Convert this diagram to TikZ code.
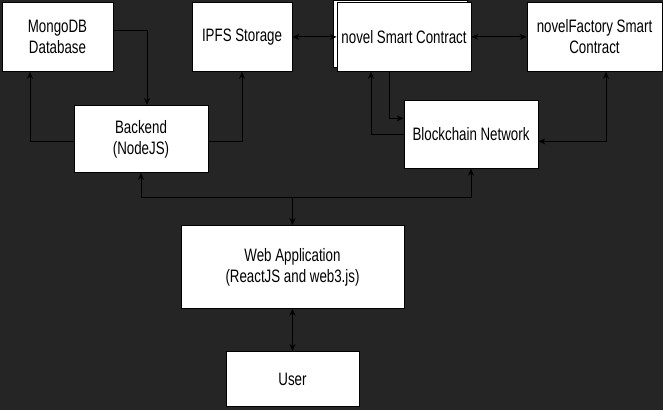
\documentclass[tikz,border=0pt]{standalone}
\usepackage{fontspec}
\newfontfamily\boxfont[FakeStretch=0.74]{Liberation Sans}
\usetikzlibrary{arrows.meta}
\definecolor{bgdark}{HTML}{252525}

\begin{document}
\begin{tikzpicture}[x=1pt,y=-1pt]
	\tikzstyle{box}=[draw=black, fill=white, line width=0.8pt, inner sep=0pt, align=center, font=\boxfont\fontsize{18}{21}\selectfont]
	\tikzstyle{link}=[black, line width=0.9pt, -{Stealth[length=7pt,width=6pt]}]
	\tikzstyle{twolink}=[link, {Stealth[length=7pt,width=6pt]}-{Stealth[length=7pt,width=6pt]}]
	\fill [bgdark] (0,0) rectangle (663,410);
	% top row
	\node [box, minimum width=111pt, minimum height=69pt] (mongo) at (57.5,36.5) {MongoDB\\Database};
	\node [box, minimum width=100pt, minimum height=69pt] (ipfs) at (242,36.5) {IPFS Storage};
	\draw [black, fill=white, line width=0.8pt] (333,0) rectangle (467,67);
	\node [box, minimum width=134pt, minimum height=69pt] (novel) at (404,36.5) {novel Smart Contract};
	\node [box, minimum width=135pt, minimum height=69pt] (factory) at (594.5,36.5) {novelFactory Smart\\Contract};
	% middle row
	\node [box, minimum width=134pt, minimum height=67pt] (backend) at (141,138.5) {Backend\\(NodeJS)};
	\node [box, minimum width=134pt, minimum height=68pt] (chain) at (471,134) {Blockchain Network};
	% bottom
	\node [box, minimum width=223pt, minimum height=83pt] (web) at (292.5,266.5) {Web Application\\(ReactJS and web3.js)};
	\node [box, minimum width=133pt, minimum height=55pt] (user) at (292.5,378.5) {User};
	% connectors
	\draw [link] ([yshift=6.5pt]mongo.east) -| ([xshift=6pt]backend.north);
	\draw [link] ([yshift=-2.5pt]backend.west) -| ([xshift=-27.5pt]mongo.south);
	\draw [link] ([yshift=-2.5pt]backend.east) -| (ipfs.south);
	\draw [twolink] (ipfs) -- (novel);
	\draw [twolink] (novel) -- (factory);
	\draw [link] ([xshift=-15pt]novel.south) |- ([yshift=16pt]chain.west);
	\draw [link] (chain.west) -| ([xshift=-33pt]novel.south);
	\draw [twolink] ([yshift=-7pt]chain.east) -| ([xshift=11.5pt]factory.south);
	\coordinate (split) at ([yshift=28pt]web.north);
	\draw [link] (split) -- (web.north);
	\draw [link] (split) -| (backend.south);
	\draw [link] (split) -| (chain.south);
	\draw [twolink] (web) -- (user);
\end{tikzpicture}
\end{document}
